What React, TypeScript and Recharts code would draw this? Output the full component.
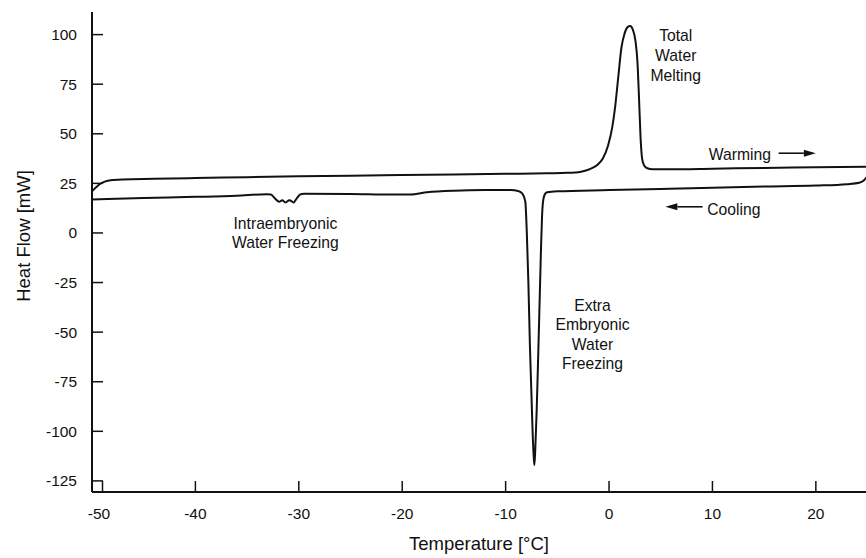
import React from 'react';
import { LineChart, Line, XAxis, YAxis, ReferenceDot, ReferenceLine } from 'recharts';

const FONT = '"Liberation Sans", Arial, Helvetica, sans-serif';
const INK = '#111';

// Warming scan (upper trace)
const warmingTemp = [-50, -49.6, -49.2, -48.7, -48.2, -47, -44, -40, -35, -30, -25, -20, -15, -10, -6, -4, -2.7, -1.8, -1.2, -0.6, -0.1, 0.3, 0.6, 0.9, 1.2, 1.5, 1.8, 2.05, 2.3, 2.55, 2.75, 2.9, 3.05, 3.2, 3.4, 3.7, 4.2, 6, 10, 15, 20, 24.9];
const warmingFlow = [21, 23, 24.8, 26, 26.6, 27, 27.3, 27.7, 28.1, 28.6, 28.9, 29.2, 29.5, 29.8, 30.1, 30.3, 30.9, 32.3, 34, 37.5, 44, 53, 64, 79, 93.5, 100.5, 103.8, 104.4, 102.5, 97, 86, 68, 48, 37.5, 34, 32.6, 32.1, 32.1, 32.4, 32.8, 33.1, 33.4];

// Cooling scan (lower trace)
const coolingTemp = [-50, -45, -40, -36, -33.1, -32.7, -32.3, -31.9, -31.6, -31.3, -30.9, -30.5, -30.2, -29.9, -29.5, -25, -21, -19.2, -17.6, -15, -12, -9.5, -8.8, -8.4, -8.1, -7.95, -7.8, -7.65, -7.5, -7.38, -7.28, -7.22, -7.14, -7.0, -6.85, -6.7, -6.58, -6.48, -6.4, -6.25, -6.0, -5, 0, 5, 9, 15, 20, 23, 24.2, 24.6, 24.9];
const coolingFlow = [16.9, 17.6, 18.2, 18.8, 19.5, 19.4, 17.4, 15.7, 16.5, 15.4, 16.5, 15.4, 17.4, 19.3, 19.8, 19.7, 19.4, 19.4, 20.5, 21.3, 21.6, 21.6, 21.2, 19.9, 16, 0, -25, -57, -82, -102, -113, -117, -110, -90, -62, -32, -8, 8, 15, 19, 20.5, 21, 21.6, 22.2, 22.7, 23.4, 23.9, 24.6, 25.3, 26.3, 28];

const xTicks = [-50, -40, -30, -20, -10, 0, 10, 20];
const yTicks = [100, 75, 50, 25, 0, -25, -50, -75, -100, -125];

const warming = warmingTemp.map((t, i) => ({ t, v: warmingFlow[i] }));
const cooling = coolingTemp.map((t, i) => ({ t, v: coolingFlow[i] }));

const X_MARGIN = 26.5;
const Y_MARGIN = 15;
const TICK_LEN = 11;
const TICK_FONT = 15.5;
const NOTE_FONT = 15.7;

const XTick = (props: any) => {
  const { x, y, payload } = props;
  const shift = payload.value === -50 ? 7 : 0;
  const axisY = y - X_MARGIN;
  const lx = payload.value === -50 ? x + 10.5 : x;
  return (
    <g>
      <line x1={lx} y1={axisY} x2={lx} y2={axisY - TICK_LEN} stroke={INK} strokeWidth={1.5} />
      <text x={x + shift} y={y} textAnchor="middle" fontSize={TICK_FONT} fontFamily={FONT} fill={INK}>
        {payload.value}
      </text>
    </g>
  );
};

const YTick = (props: any) => {
  const { x, y, payload } = props;
  const axisX = x + Y_MARGIN;
  return (
    <g>
      <line x1={axisX} y1={y} x2={axisX + TICK_LEN} y2={y} stroke={INK} strokeWidth={1.5} />
      <text x={x} y={y} dy={5.5} textAnchor="end" fontSize={TICK_FONT} fontFamily={FONT} fill={INK}>
        {payload.value}
      </text>
    </g>
  );
};

const textBlock = (lines: string[], lh: number, anchor: 'start' | 'middle' | 'end' = 'middle') => (props: any) => {
  const { cx, cy } = props;
  return (
    <text x={cx} y={cy} textAnchor={anchor} fontSize={NOTE_FONT} fontFamily={FONT} fill={INK}>
      {lines.map((l, i) => (
        <tspan key={i} x={cx} dy={i === 0 ? 0 : lh}>
          {l}
        </tspan>
      ))}
    </text>
  );
};

const arrowShape = (props: any) => {
  const { x1, y1, x2, y2 } = props;
  const dir = x2 > x1 ? 1 : -1;
  const headLen = 12;
  const headHalf = 3.5;
  return (
    <g>
      <line x1={x1} y1={y1} x2={x2 - dir * headLen} y2={y2} stroke={INK} strokeWidth={1.6} />
      <polygon
        points={`${x2},${y2} ${x2 - dir * headLen},${y2 - headHalf} ${x2 - dir * headLen},${y2 + headHalf}`}
        fill={INK}
      />
    </g>
  );
};

export default function App() {
  return (
    <div style={{ position: 'absolute', left: 0, top: 0, width: 866, height: 558, background: '#fff' }}>
      <LineChart width={866} height={558} margin={{ top: 12, right: 0, bottom: 0, left: 0 }}>
        <XAxis
          type="number"
          dataKey="t"
          domain={[-50, 24.85]}
          ticks={xTicks}
          allowDataOverflow
          height={66}
          tickSize={0}
          tickMargin={X_MARGIN}
          tick={<XTick />}
          tickLine={false}
          axisLine={{ stroke: INK, strokeWidth: 2 }}
          label={{ value: 'Temperature [°C]', position: 'insideBottom', offset: 8, fontSize: 18.5, fontFamily: FONT, fill: INK }}
        />
        <YAxis
          type="number"
          dataKey="v"
          domain={[-130.6, 111.4]}
          ticks={yTicks}
          allowDataOverflow
          width={92}
          tickSize={0}
          tickMargin={Y_MARGIN}
          tick={<YTick />}
          tickLine={false}
          axisLine={{ stroke: INK, strokeWidth: 2 }}
          label={{ value: 'Heat Flow [mW]', angle: -90, position: 'center', dx: -23, dy: -16, fontSize: 18.5, fontFamily: FONT, fill: INK }}
        />
        <Line data={warming} dataKey="v" type="monotone" stroke={INK} strokeWidth={2} dot={false} isAnimationActive={false} />
        <Line data={cooling} dataKey="v" type="monotone" stroke={INK} strokeWidth={2} dot={false} isAnimationActive={false} />

        <ReferenceDot x={6.45} y={96.9} r={0} shape={textBlock(['Total', 'Water', 'Melting'], 20)} />
        <ReferenceDot x={-31.3} y={2.2} r={0} shape={textBlock(['Intraembryonic', 'Water Freezing'], 19)} />
        <ReferenceDot x={-1.6} y={-39.4} r={0} shape={textBlock(['Extra', 'Embryonic', 'Water', 'Freezing'], 19.3)} />
        <ReferenceDot x={9.65} y={36.9} r={0} shape={textBlock(['Warming'], 19, 'start')} />
        <ReferenceDot x={9.5} y={9.0} r={0} shape={textBlock(['Cooling'], 19, 'start')} />
        <ReferenceLine segment={[{ x: 16.4, y: 40.2 }, { x: 20.0, y: 40.2 }]} shape={arrowShape} />
        <ReferenceLine segment={[{ x: 9.05, y: 13.2 }, { x: 5.45, y: 13.2 }]} shape={arrowShape} />
      </LineChart>
    </div>
  );
}
